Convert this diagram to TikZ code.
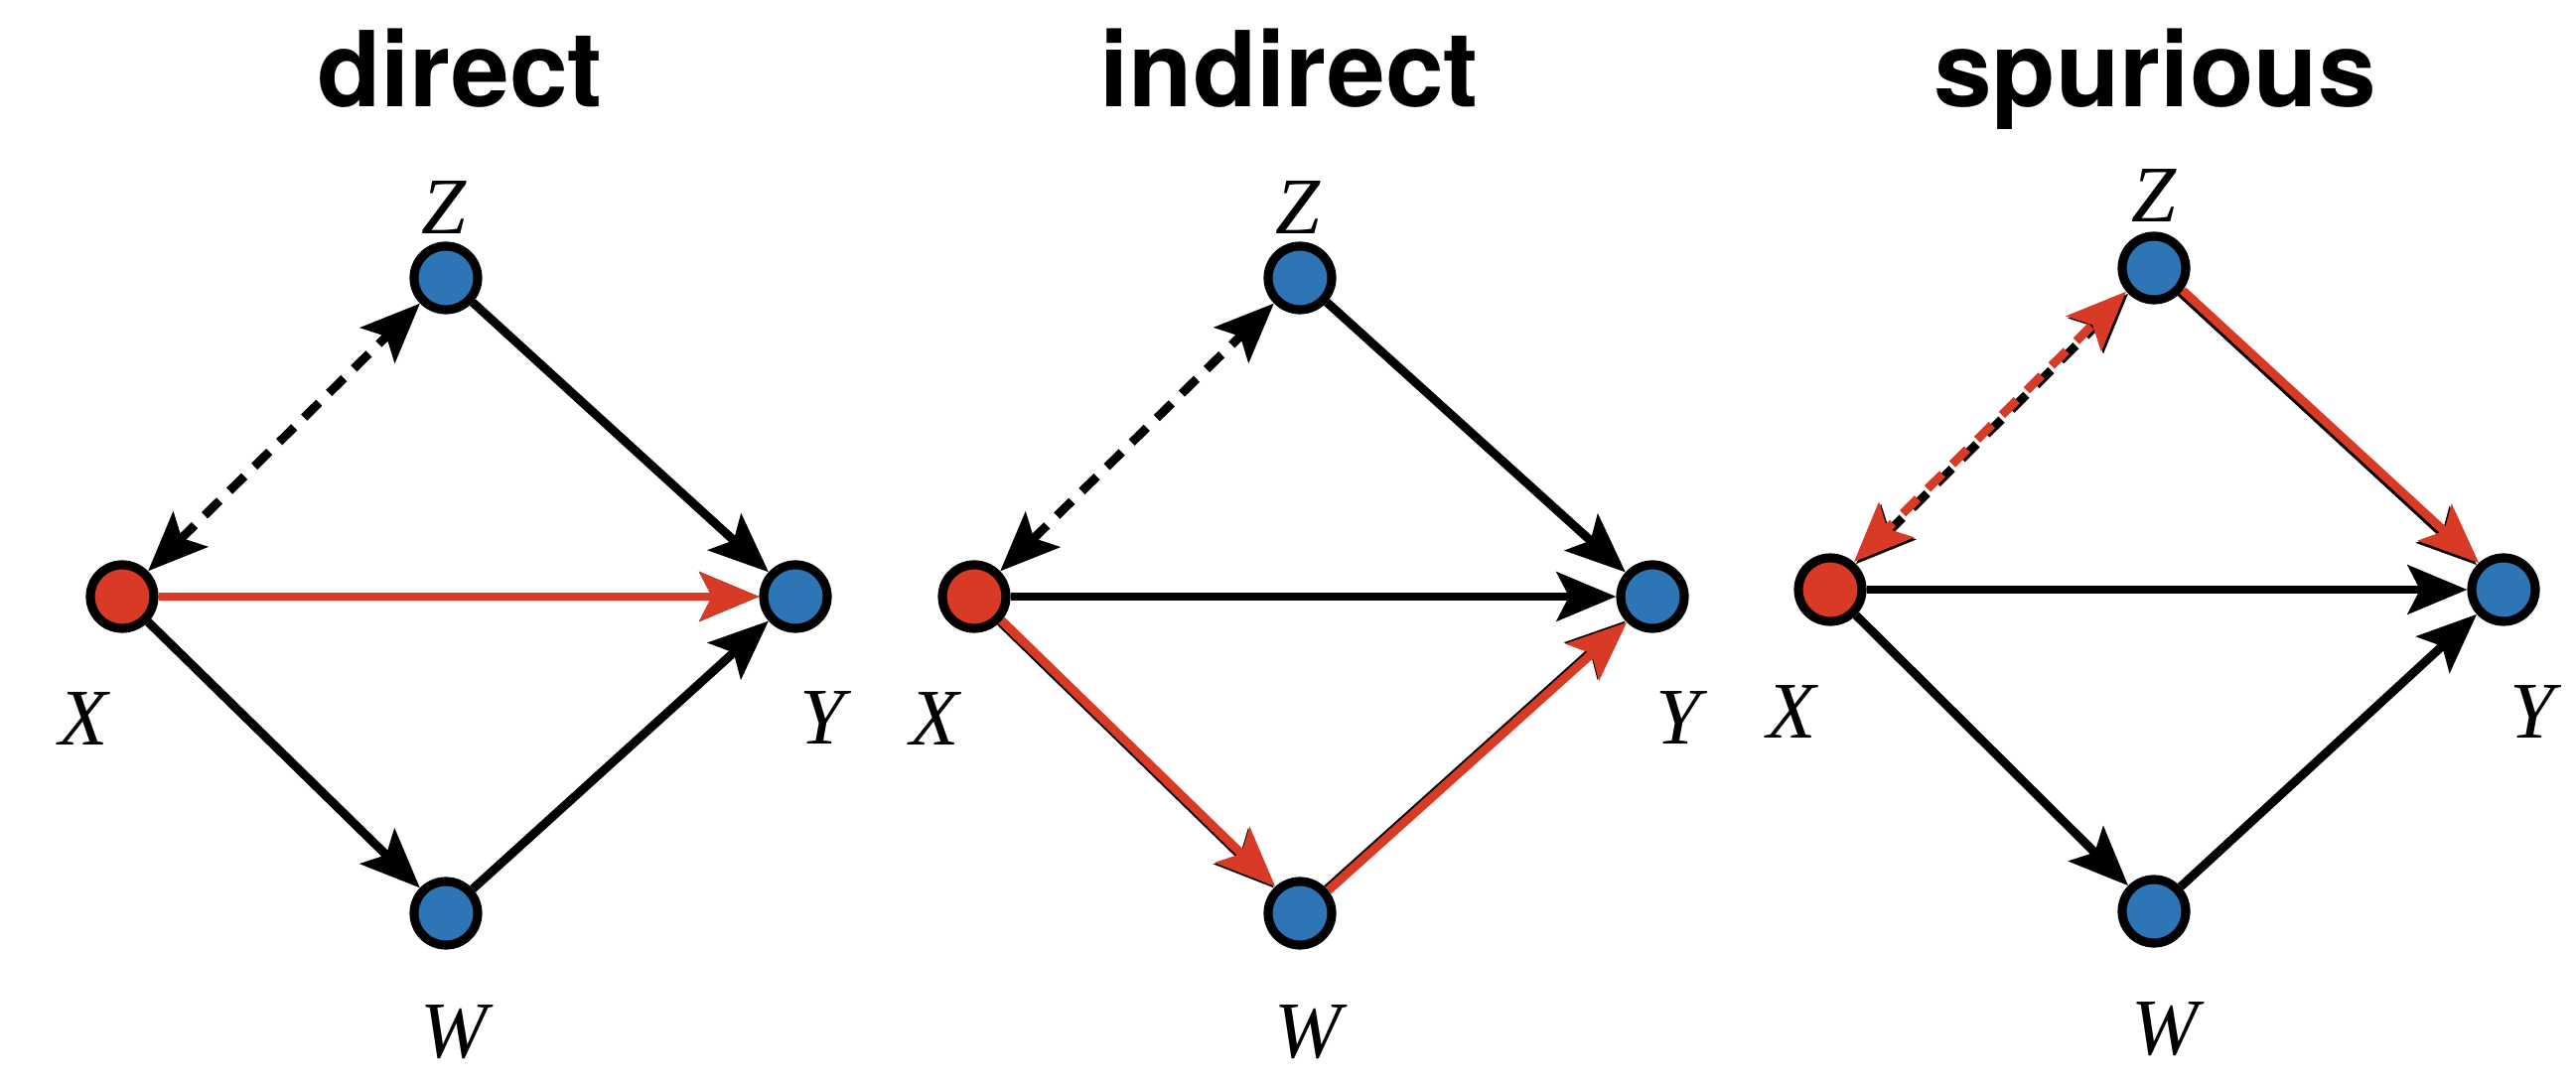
\documentclass[tikz,border=0pt]{standalone}
\usepackage{fontspec}
\setmainfont{Liberation Serif}
\setsansfont{TeX Gyre Heros}
\usetikzlibrary{arrows.meta}
\definecolor{cause}{HTML}{D93A26}
\definecolor{var}{HTML}{2E75B6}

\tikzset{
  vtx/.style={circle,draw=black,line width=2.6pt,fill=var,minimum size=0.64cm,inner sep=0pt},
  src/.style={vtx,fill=cause},
  lbl/.style={font=\fontsize{23}{27}\selectfont\itshape,anchor=base,inner sep=0pt},
  ttl/.style={font=\fontsize{30}{36}\selectfont\sffamily\bfseries,anchor=base,inner sep=0pt},
  arr/.style={line width=2.5pt,-{Stealth[length=17pt,width=14pt,inset=3.5pt]}},
  conf/.style={line width=2.5pt,{Stealth[length=17pt,width=14pt,inset=3.5pt]}-{Stealth[length=17pt,width=14pt,inset=3.5pt]},dash pattern=on 6pt off 4pt},
}

\begin{document}
\begin{tikzpicture}[x=0.01cm,y=-0.01cm]
\useasboundingbox (0,0) rectangle (2594,1092);

% titles
\node[ttl] (t1) at (463,108) {direct};
\node[ttl] (t2) at (1298,108) {indirect};
\node[ttl] (t3) at (2170,108) {spurious};

% direct
\node[src] (x1) at (123,601) {};
\node[vtx] (z1) at (449,280) {};
\node[vtx] (y1) at (801,601) {};
\node[vtx] (w1) at (449,920) {};
\node[lbl] (lz1) at (447,236) {Z};
\node[lbl] (lx1) at (84,751) {X};
\node[lbl] (ly1) at (828,750) {Y};
\node[lbl] (lw1) at (457,1065) {W};
\draw[conf] (x1) -- (z1);
\draw[arr] (z1) -- (y1);
\draw[arr] (x1) -- (w1);
\draw[arr] (w1) -- (y1);
\draw[arr] (x1) -- (y1);
\draw[arr,cause] (x1) -- (y1);

% indirect
\node[src] (x2) at (981,601) {};
\node[vtx] (z2) at (1309,280) {};
\node[vtx] (y2) at (1664,601) {};
\node[vtx] (w2) at (1309,920) {};
\node[lbl] (lz2) at (1307,236) {Z};
\node[lbl] (lx2) at (941,751) {X};
\node[lbl] (ly2) at (1690,750) {Y};
\node[lbl] (lw2) at (1317,1065) {W};
\draw[conf] (x2) -- (z2);
\draw[arr] (z2) -- (y2);
\draw[arr] (x2) -- (y2);
\draw[arr] (x2) -- (w2);
\draw[arr] (w2) -- (y2);
\draw[arr,cause,transform canvas={xshift=0.4pt,yshift=0.4pt}] (x2) -- (w2);
\draw[arr,cause,transform canvas={xshift=0.4pt,yshift=-0.4pt}] (w2) -- (y2);

% spurious
\node[src] (x3) at (1843,594) {};
\node[vtx] (z3) at (2169,270) {};
\node[vtx] (y3) at (2521,594) {};
\node[vtx] (w3) at (2169,918) {};
\node[lbl] (lz3) at (2169,224) {Z};
\node[lbl] (lx3) at (1804,744) {X};
\node[lbl] (ly3) at (2550,744) {Y};
\node[lbl] (lw3) at (2180,1062) {W};
\draw[conf] (x3) -- (z3);
\draw[arr] (z3) -- (y3);
\draw[arr] (x3) -- (y3);
\draw[arr] (x3) -- (w3);
\draw[arr] (w3) -- (y3);
\draw[conf,cause,dash phase=3pt,transform canvas={xshift=-0.6pt,yshift=0.6pt}] (x3) -- (z3);
\draw[arr,cause,transform canvas={xshift=0.6pt,yshift=0.6pt}] (z3) -- (y3);
\end{tikzpicture}
\end{document}
